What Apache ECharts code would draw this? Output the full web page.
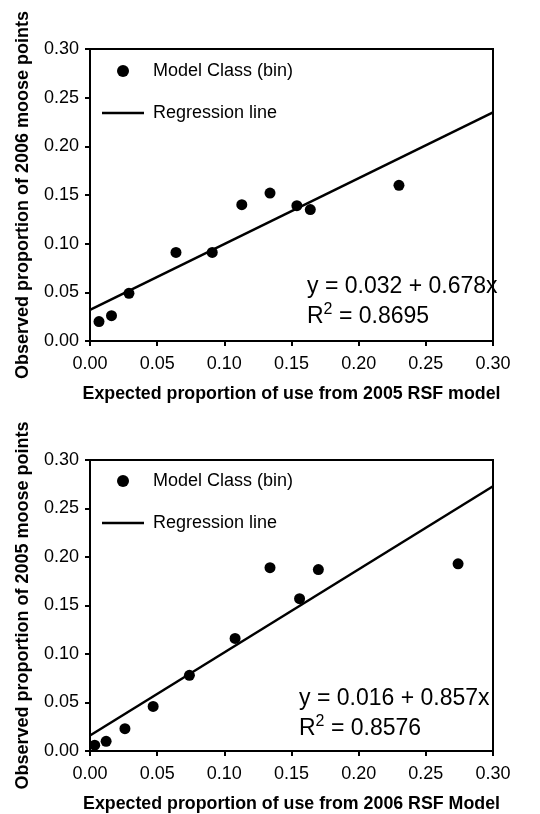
<!DOCTYPE html>
<html>
<head>
<meta charset="utf-8">
<script src="https://cdn.jsdelivr.net/npm/echarts@6/dist/echarts.min.js"></script>
<style>html,body{margin:0;padding:0;background:#fff}#c{width:540px;height:814px}</style>
</head>
<body>
<div id="c"></div>
<script>
// Top panel: 2005 RSF model vs 2006 moose points
const topPoints = [
  [0.0067, 0.020], [0.016, 0.026], [0.029, 0.049], [0.064, 0.091], [0.091, 0.091],
  [0.113, 0.140], [0.134, 0.152], [0.154, 0.139], [0.164, 0.135], [0.230, 0.160]
];
const topLine = [[0, 0.032], [0.30, 0.235]];
// Bottom panel: 2006 RSF model vs 2005 moose points
const botPoints = [
  [0.0035, 0.006], [0.012, 0.010], [0.026, 0.023], [0.047, 0.046], [0.074, 0.078],
  [0.108, 0.116], [0.134, 0.189], [0.156, 0.157], [0.170, 0.187], [0.274, 0.193]
];
const botLine = [[0, 0.016], [0.30, 0.273]];

const axisTicks = { min: 0, max: 0.30, interval: 0.05 };
const topXName = 'Expected proportion of use from 2005 RSF model';
const topYName = 'Observed proportion of 2006 moose points';
const botXName = 'Expected proportion of use from 2006 RSF Model';
const botYName = 'Observed proportion of 2005 moose points';
const topEq = ['y = 0.032 + 0.678x', '0.8695'];
const botEq = ['y = 0.016 + 0.857x', '0.8576'];
const legendNames = ['Model Class (bin)', 'Regression line'];

const FONT = '"Liberation Sans", Arial, sans-serif';
const chart = echarts.init(document.getElementById('c'), null, { renderer: 'canvas' });

function xAxis(gi, name) {
  return {
    type: 'value', gridIndex: gi, min: axisTicks.min, max: axisTicks.max, interval: axisTicks.interval,
    name: name, nameLocation: 'middle', nameGap: 44,
    nameTextStyle: { fontFamily: FONT, fontSize: 17.8, fontWeight: 'bold', color: '#000' },
    axisLine: { show: true, onZero: false, lineStyle: { color: '#000', width: 2 } },
    axisTick: { show: true, inside: false, length: 5, lineStyle: { color: '#000', width: 2 } },
    axisLabel: { color: '#000', fontFamily: FONT, fontSize: 18, margin: 14, formatter: v => v.toFixed(2) },
    splitLine: { show: false }
  };
}
function yAxis(gi, name) {
  return {
    type: 'value', gridIndex: gi, min: axisTicks.min, max: axisTicks.max, interval: axisTicks.interval,
    name: name, nameLocation: 'middle', nameGap: 58,
    nameTextStyle: { fontFamily: FONT, fontSize: 18, fontWeight: 'bold', color: '#000' },
    axisLine: { show: true, onZero: false, lineStyle: { color: '#000', width: 2 } },
    axisTick: { show: true, inside: false, length: 5, lineStyle: { color: '#000', width: 2 } },
    axisLabel: { color: '#000', fontFamily: FONT, fontSize: 18, margin: 11, formatter: v => v.toFixed(2) },
    splitLine: { show: false }
  };
}
function legend(top) {
  return {
    data: [
      { name: legendNames[0], icon: 'circle' },
      { name: legendNames[1], icon: 'path://M0,0L42,0L42,2.5L0,2.5Z' }
    ],
    orient: 'vertical', left: 102, top: top, itemGap: 24, padding: 0,
    itemWidth: 42, itemHeight: 12, selectedMode: false, symbolKeepAspect: true,
    textStyle: { fontFamily: FONT, fontSize: 18, color: '#000', padding: [0, 0, 0, 4] }
  };
}
function eqText(left, top, eq) {
  return {
    type: 'text', left: left, top: top, silent: true,
    style: {
      text: eq[0] + '\nR{sup|2} = ' + eq[1],
      fill: '#000', font: '23px ' + FONT, lineHeight: 30,
      rich: { sup: { fontSize: 16, fontFamily: FONT, fill: '#000', verticalAlign: 'top', lineHeight: 22 } }
    }
  };
}

const scatterStyle = { color: '#000', opacity: 1 };
chart.setOption({
  animation: false,
  backgroundColor: '#fff',
  grid: [
    { left: 90, top: 49, width: 403, height: 292, show: true, borderColor: '#000', borderWidth: 2, backgroundColor: 'transparent' },
    { left: 90, top: 460, width: 403, height: 291, show: true, borderColor: '#000', borderWidth: 2, backgroundColor: 'transparent' }
  ],
  xAxis: [xAxis(0, topXName), xAxis(1, botXName)],
  yAxis: [yAxis(0, topYName), yAxis(1, botYName)],
  legend: [legend(62), legend(472)],
  graphic: [eqText(307, 272, topEq), eqText(299, 684, botEq)],
  series: [
    { name: legendNames[0], type: 'scatter', xAxisIndex: 0, yAxisIndex: 0, data: topPoints, symbol: 'circle', symbolSize: 11, itemStyle: scatterStyle },
    { name: legendNames[1], type: 'line', xAxisIndex: 0, yAxisIndex: 0, data: topLine, symbol: 'none', showSymbol: false, lineStyle: { color: '#000', width: 2.5 }, itemStyle: { color: '#000' } },
    { name: legendNames[0], type: 'scatter', xAxisIndex: 1, yAxisIndex: 1, data: botPoints, symbol: 'circle', symbolSize: 11, itemStyle: scatterStyle },
    { name: legendNames[1], type: 'line', xAxisIndex: 1, yAxisIndex: 1, data: botLine, symbol: 'none', showSymbol: false, lineStyle: { color: '#000', width: 2.5 }, itemStyle: { color: '#000' } }
  ]
});
</script>
</body>
</html>
